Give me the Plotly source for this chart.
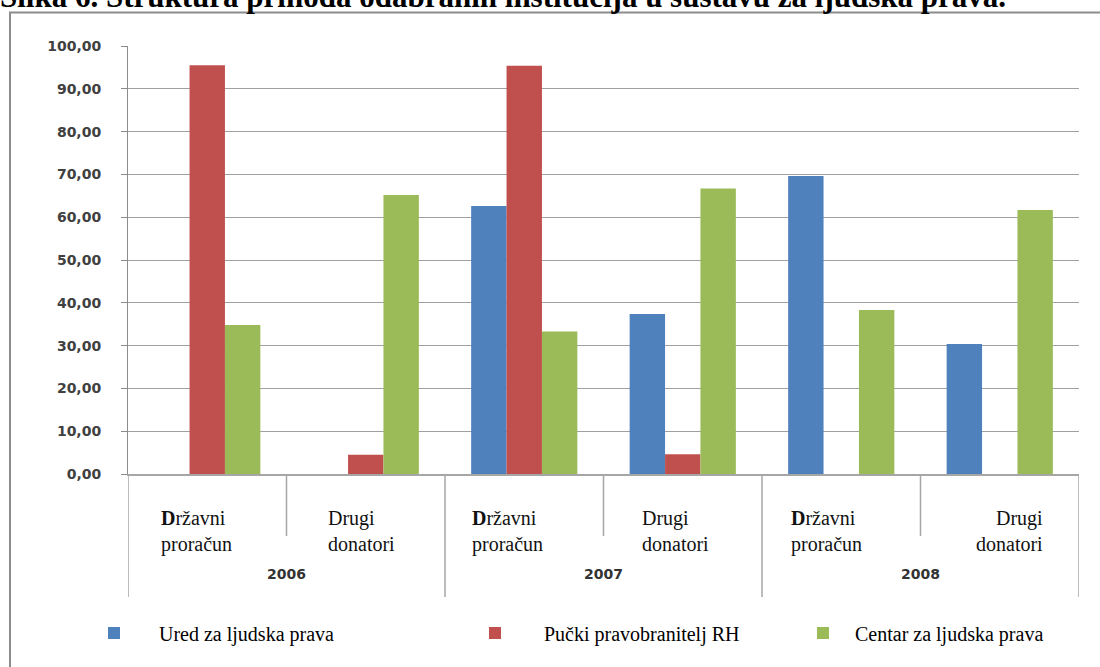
import plotly.graph_objects as go

# ---- data ----
years = ["2006", "2007", "2008"]
sources = ["<b>D</b>ržavni<br>proračun", "Drugi<br>donatori"]
series_names = ["Ured za ljudska prava", "Pučki pravobranitelj RH", "Centar za ljudska prava"]
ured = [0.0, 0.0, 62.6, 37.4, 69.6, 30.4]
pucki = [95.5, 4.5, 95.4, 4.6, 0.0, 0.0]
centar = [34.8, 65.2, 33.3, 66.7, 38.3, 61.7]
y_ticks = [0, 10, 20, 30, 40, 50, 60, 70, 80, 90, 100]
title_text = "Slika 6. Struktura prihoda odabranih institucija u sustavu za ljudska prava."

# ---- style ----
colors = ["#4F81BD", "#C0504D", "#9BBB59"]
W, H = 1100, 667
ML, MR, MT, MB = 128, 21, 46, 193
PH = H - MT - MB
PW = W - ML - MR
SERIF = "Liberation Serif"
SANS = "DejaVu Sans"
# small horizontal nudges / alignment of the category labels (as in the original layout)
label_shift = [-11, -4, -17, -7, -15, 10]
label_align = ["left", "left", "left", "left", "left", "right"]

cats = [f"{y}|{s}" for y in years for s in sources]
xpos = list(range(len(cats)))
series = [ured, pucki, centar]
legend_ids = ["legend", "legend2", "legend3"]

fig = go.Figure()
for name, vals, col, lg in zip(series_names, series, colors, legend_ids):
    fig.add_trace(go.Bar(x=xpos, y=vals, name=name, marker=dict(color=col, line=dict(width=0)),
                         legend=lg))

def py(pix):  # pixel y -> paper
    return (H - MB - pix) / PH

def px(pix):
    return (pix - ML) / PW

annotations = []
# inner category labels
for i, c in enumerate(cats):
    s = c.split("|")[1]
    annotations.append(dict(x=xpos[i], y=py(531), xref="x", yref="paper", text=s, showarrow=False,
                            xanchor="center", yanchor="middle", align=label_align[i],
                            xshift=label_shift[i],
                            font=dict(family=SERIF, size=20, color="#111")))
# year labels
for k, yv in enumerate(years):
    annotations.append(dict(x=2 * k + 0.5, y=py(574), xref="x", yref="paper", text=f"<b>{yv}</b>",
                            showarrow=False, xanchor="center", yanchor="middle",
                            font=dict(family=SANS, size=14, color="#333")))
# title (cropped at the top, as in the original)
annotations.append(dict(x=px(-2), y=py(15.5), xref="paper", yref="paper", text=f"<b>{title_text}</b>",
                        showarrow=False, xanchor="left", yanchor="bottom",
                        font=dict(family=SERIF, size=31, color="#000")))

shapes = []
n = len(cats)
for k in range(n + 1):
    outer = (k % 2 == 0)
    shapes.append(dict(type="line", xref="x", yref="paper", x0=k - 0.5, x1=k - 0.5,
                       y0=0, y1=py(597) if outer else py(536),
                       line=dict(color="#a6a6a6", width=1.5)))
# outer frame
shapes.append(dict(type="rect", xref="paper", yref="paper", x0=px(10), x1=px(1110),
                   y0=py(700), y1=py(12.5), line=dict(color="#8c8c8c", width=2), layer="below"))

fig.update_layout(
    width=W, height=H,
    margin=dict(l=ML, r=MR, t=MT, b=MB),
    paper_bgcolor="white", plot_bgcolor="white",
    barmode="group", bargap=0.33, bargroupgap=0,
    separators=",.",
    font=dict(family=SERIF, size=20, color="#000"),
    annotations=annotations, shapes=shapes,
    xaxis=dict(range=[-0.5, n - 0.5], showticklabels=False, showgrid=False, zeroline=False,
               showline=True, linecolor="#a6a6a6", linewidth=1.5, ticks=""),
    yaxis=dict(range=[0, 100], tickvals=y_ticks, tickformat=".2f", showgrid=True,
               gridcolor="#a0a0a0", gridwidth=1, zeroline=False, showline=True,
               linecolor="#8c8c8c", linewidth=1, ticks="outside", ticklen=6, tickcolor="#8c8c8c",
               ticklabelstandoff=17,
               tickfont=dict(family=SANS, size=14, color="#404040", weight="bold")),
    showlegend=True,
)
legend_common = dict(orientation="h", xref="container", yref="container", yanchor="middle",
                     xanchor="left", bgcolor="rgba(0,0,0,0)",
                     font=dict(family=SERIF, size=20, color="#000"))
marker_centers = [114, 495, 823]
text_gaps = [45, 49, 32]
for lg, mc, gap in zip(legend_ids, marker_centers, text_gaps):
    itemw = 2 * gap - 10
    fig.update_layout({lg: dict(legend_common, x=(mc - gap) / W, y=(H - 633) / H, itemwidth=itemw)})

fig.write_html("out.html")
